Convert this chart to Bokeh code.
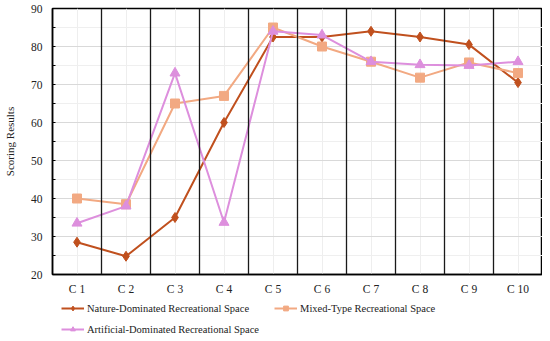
import math
from bokeh.plotting import figure
from bokeh.layouts import column
from bokeh.models import Legend, LegendItem, FixedTicker, ColumnDataSource, Range1d, Span
from bokeh.embed import file_html
from bokeh.resources import INLINE

categories = ["C 1", "C 2", "C 3", "C 4", "C 5", "C 6", "C 7", "C 8", "C 9", "C 10"]
nature = [28.5, 24.8, 35.0, 60.0, 82.5, 82.5, 84.0, 82.5, 80.5, 70.5]
mixed = [40.0, 38.5, 65.0, 67.0, 85.0, 80.0, 76.0, 71.8, 75.8, 73.0]
artificial = [33.5, 38.0, 73.0, 33.7, 84.0, 83.0, 76.0, 75.2, 75.0, 76.0]
y_ticks = [20, 30, 40, 50, 60, 70, 80, 90]
series_names = ["Nature-Dominated Recreational Space", "Mixed-Type Recreational Space",
                "Artificial-Dominated Recreational Space"]

xs = list(range(1, len(categories) + 1))
FONT = "Liberation Serif"

p = figure(width=542, height=297, output_backend="svg", toolbar_location=None,
           x_range=Range1d(0.5, len(categories) + 0.5), y_range=Range1d(20, 90),
           min_border_top=8, min_border_right=0, min_border_left=48, min_border_bottom=0)
p.outline_line_color = "black"
p.outline_line_width = 1.5
p.background_fill_color = "white"

# grids
p.xgrid.ticker = FixedTicker(ticks=xs)
p.xgrid.grid_line_color = "#eeeeee"
p.xgrid.grid_line_width = 1
p.ygrid.ticker = FixedTicker(ticks=y_ticks, minor_ticks=[y + 5 for y in y_ticks[:-1]])
p.ygrid.grid_line_color = "#d9d9d9"
p.ygrid.minor_grid_line_color = "#efefef"
p.ygrid.grid_line_width = 1
for x in xs[:-1]:
    p.add_layout(Span(location=x + 0.5, dimension="height", line_color="#1a1a1a", line_width=1.3))

# axes
p.xaxis.ticker = FixedTicker(ticks=xs)
p.xaxis.major_label_overrides = {x: c for x, c in zip(xs, categories)}
p.xaxis.major_tick_line_color = None
p.xaxis.major_tick_in = 0
p.xaxis.major_tick_out = 0
p.xaxis.minor_tick_line_color = None
p.xaxis.minor_tick_in = 0
p.xaxis.minor_tick_out = 0
p.xaxis.axis_line_color = "black"
p.xaxis.axis_line_width = 1.5
p.xaxis.major_label_standoff = 8
p.yaxis.ticker = FixedTicker(ticks=y_ticks, minor_ticks=[y + 5 for y in y_ticks[:-1]])
p.yaxis.major_tick_in = 3
p.yaxis.major_tick_out = 0
p.yaxis.minor_tick_in = 3
p.yaxis.minor_tick_out = 0
p.yaxis.axis_line_color = "black"
p.yaxis.axis_line_width = 1.5
p.yaxis.major_label_standoff = 10
p.yaxis.axis_label = "Scoring Results"
p.yaxis.axis_label_standoff = 12
for ax in (p.xaxis, p.yaxis):
    ax.major_label_text_font = FONT
    ax.major_label_text_font_size = "11.5px"
    ax.major_label_text_color = "#222222"
    ax.axis_label_text_font = FONT
    ax.axis_label_text_font_size = "11px"
    ax.axis_label_text_font_style = "normal"
    ax.axis_label_text_color = "#222222"

colors = ["#c0501e", "#f2a982", "#dd8fdd"]
markers = ["diamond", "square", "triangle"]
sizes = [10, 9, 10]
fields = ["nature", "mixed", "artificial"]

src = ColumnDataSource(dict(x=xs, nature=nature, mixed=mixed, artificial=artificial))
for f, c, m, s in zip(fields, colors, markers, sizes):
    p.line("x", f, source=src, line_color=c, line_width=2)
    p.scatter("x", f, source=src, marker=m, size=s, fill_color=c, line_color=c)

# legend in its own strip below the chart (its frame is aligned with the chart's frame)
lf = figure(width=542, height=38, output_backend="svg", toolbar_location=None,
            x_range=Range1d(0, 1), y_range=Range1d(0, 1),
            x_axis_location=None, y_axis_location=None,
            min_border=0, outline_line_color=None)
lf.grid.visible = False
nan_src = ColumnDataSource(dict(x=[math.nan], y=[math.nan]))
items = []
for name, c, m, s in zip(series_names, colors, markers, sizes):
    r1 = lf.line("x", "y", source=nan_src, line_color=c, line_width=2)
    r2 = lf.scatter("x", "y", source=nan_src, marker=m, size=s - 3, fill_color=c, line_color=c)
    items.append(LegendItem(label=name, renderers=[r1, r2]))


def make_legend(its, spacing, loc):
    lg = Legend(items=its, orientation="horizontal", location=loc)
    lg.label_text_font = FONT
    lg.label_text_font_size = "10.5px"
    lg.label_text_color = "#222222"
    lg.border_line_color = None
    lg.background_fill_alpha = 0
    lg.glyph_width = 23
    lg.glyph_height = 12
    lg.label_standoff = 3
    lg.label_height = 12
    lg.spacing = spacing
    lg.margin = 0
    lg.padding = 0
    return lg


lf.add_layout(make_legend(items[:2], 25, (9, 21)))
lf.add_layout(make_legend(items[2:], 0, (9, 0)))

open("out.html", "w").write(file_html(column(p, lf, spacing=0), INLINE))
